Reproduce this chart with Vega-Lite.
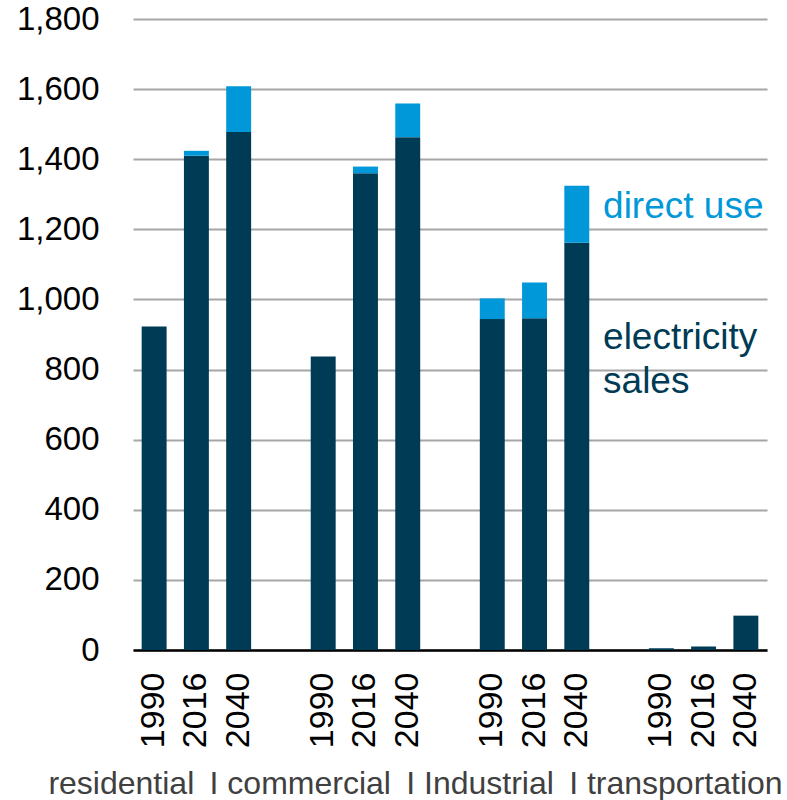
{
  "$schema": "https://vega.github.io/schema/vega-lite/v6.json",
  "autosize": "none",
  "width": 634,
  "height": 631,
  "padding": {"left": 133, "top": 19, "right": 20, "bottom": 150},
  "background": "white",
  "config": {
    "view": {"stroke": null},
    "font": "Liberation Sans"
  },
  "datasets": {
    "bars": [
      {"key": "residential 1990", "type": "electricity sales", "ord": 1, "value": 923},
      {"key": "residential 1990", "type": "direct use", "ord": 2, "value": 0},
      {"key": "residential 2016", "type": "electricity sales", "ord": 1, "value": 1410},
      {"key": "residential 2016", "type": "direct use", "ord": 2, "value": 14},
      {"key": "residential 2040", "type": "electricity sales", "ord": 1, "value": 1478},
      {"key": "residential 2040", "type": "direct use", "ord": 2, "value": 130},
      {"key": "commercial 1990", "type": "electricity sales", "ord": 1, "value": 837},
      {"key": "commercial 1990", "type": "direct use", "ord": 2, "value": 0},
      {"key": "commercial 2016", "type": "electricity sales", "ord": 1, "value": 1360},
      {"key": "commercial 2016", "type": "direct use", "ord": 2, "value": 19},
      {"key": "commercial 2040", "type": "electricity sales", "ord": 1, "value": 1463},
      {"key": "commercial 2040", "type": "direct use", "ord": 2, "value": 96},
      {"key": "industrial 1990", "type": "electricity sales", "ord": 1, "value": 944},
      {"key": "industrial 1990", "type": "direct use", "ord": 2, "value": 59},
      {"key": "industrial 2016", "type": "electricity sales", "ord": 1, "value": 946},
      {"key": "industrial 2016", "type": "direct use", "ord": 2, "value": 102},
      {"key": "industrial 2040", "type": "electricity sales", "ord": 1, "value": 1162},
      {"key": "industrial 2040", "type": "direct use", "ord": 2, "value": 162},
      {"key": "transportation 1990", "type": "electricity sales", "ord": 1, "value": 5},
      {"key": "transportation 1990", "type": "direct use", "ord": 2, "value": 0},
      {"key": "transportation 2016", "type": "electricity sales", "ord": 1, "value": 10},
      {"key": "transportation 2016", "type": "direct use", "ord": 2, "value": 0},
      {"key": "transportation 2040", "type": "electricity sales", "ord": 1, "value": 98},
      {"key": "transportation 2040", "type": "direct use", "ord": 2, "value": 0}
    ],
    "notes": [
      {"key": "gap3", "type": "direct use", "value": 1231, "text": "direct use"},
      {"key": "gap3", "type": "electricity sales", "value": 860, "text": "electricity"},
      {"key": "gap3", "type": "electricity sales", "value": 732, "text": "sales"}
    ]
  },
  "encoding": {
    "x": {
      "field": "key",
      "type": "nominal",
      "sort": null,
      "scale": {
        "domain": ["residential 1990", "residential 2016", "residential 2040", "gap1",
                   "commercial 1990", "commercial 2016", "commercial 2040", "gap2",
                   "industrial 1990", "industrial 2016", "industrial 2040", "gap3",
                   "transportation 1990", "transportation 2016", "transportation 2040"],
        "paddingInner": 0.41,
        "paddingOuter": 0.205
      },
      "axis": {
        "title": "residential\u00a0\u2009I\u00a0commercial\u00a0\u2009I\u00a0Industrial\u00a0\u2009I\u00a0transportation",
        "titleFont": "Liberation Sans",
        "titleFontSize": 32,
        "titleFontWeight": "normal",
        "titleColor": "#404040",
        "titleX": 282,
        "titleY": 143,
        "titleAlign": "center",
        "titleAnchor": null,
        "titleBaseline": "alphabetic",
        "labelExpr": "indexof(datum.value, 'gap') >= 0 ? '' : slice(datum.value, -4)",
        "labelAngle": -90,
        "labelAlign": "right",
        "labelBaseline": "middle",
        "labelFont": "Liberation Sans",
        "labelFontSize": 34,
        "labelColor": "#000000",
        "labelPadding": 22,
        "labelOverlap": false,
        "ticks": false,
        "domain": true,
        "domainColor": "#000000",
        "domainWidth": 2.5,
        "grid": false
      }
    },
    "y": {
      "field": "value",
      "type": "quantitative",
      "scale": {"domain": [0, 1800], "nice": false},
      "axis": {
        "title": null,
        "values": [0, 200, 400, 600, 800, 1000, 1200, 1400, 1600, 1800],
        "format": ",.0f",
        "labelFont": "Liberation Sans",
        "labelFontSize": 33,
        "labelColor": "#000000",
        "labelPadding": 34,
        "ticks": false,
        "domain": false,
        "grid": true,
        "gridColor": "#A6A6A6",
        "gridWidth": 2
      }
    }
  },
  "layer": [
    {
      "data": {"name": "bars"},
      "mark": {"type": "bar"},
      "encoding": {
        "y": {"field": "value", "type": "quantitative", "stack": "zero"},
        "color": {
          "field": "type",
          "type": "nominal",
          "scale": {"domain": ["electricity sales", "direct use"], "range": ["#003B55", "#0098D8"]},
          "legend": null
        },
        "order": {"field": "ord", "type": "quantitative"}
      }
    },
    {
      "data": {"name": "notes"},
      "mark": {"type": "text", "align": "left", "baseline": "alphabetic", "dx": -16, "font": "Liberation Sans", "fontSize": 37},
      "encoding": {
        "text": {"field": "text"},
        "color": {
          "field": "type",
          "type": "nominal",
          "scale": {"domain": ["electricity sales", "direct use"], "range": ["#003B55", "#0098D8"]},
          "legend": null
        }
      }
    }
  ]
}
